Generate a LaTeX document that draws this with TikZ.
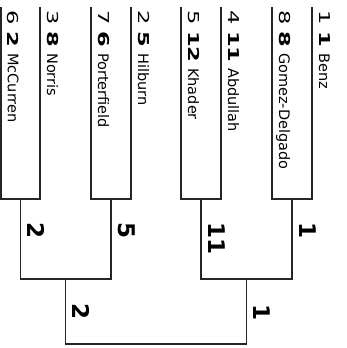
\documentclass[tikz,border=0pt]{standalone}
\usepackage{fontspec}
\setmainfont{DejaVu Sans}
\begin{document}
\begin{tikzpicture}[x=1pt,y=-1pt,
  bline/.style={line width=1.4pt, draw=black!85},
  tname/.style={rotate=-90, anchor=base west, inner sep=0pt, font=\fontsize{14.5}{16}\selectfont},
  tseed/.style={rotate=-90, anchor=base west, inner sep=0pt, font=\fontsize{15}{16}\selectfont},
  tscore/.style={rotate=-90, anchor=base west, inner sep=0pt, font=\fontsize{15}{16}\selectfont\bfseries},
  mscore/.style={rotate=-90, anchor=base west, inner sep=0pt, font=\fontsize{23}{26}\selectfont\bfseries}]
\useasboundingbox (0,0) rectangle (347,348);
% team line coordinates
\foreach \i/\xx in {1/1,2/40,3/91,4/131,5/181,6/221,7/272,8/312}{
  \coordinate (t\i) at (\xx,7);
  \coordinate (b\i) at (\xx,199);
}
% first round stems
\coordinate (m1) at (20.5,199); \coordinate (s1) at (20.5,279);
\coordinate (m2) at (111,199);  \coordinate (s2) at (111,279);
\coordinate (m3) at (201,199);  \coordinate (s3) at (201,279);
\coordinate (m4) at (292,199);  \coordinate (s4) at (292,279);
\coordinate (n1) at (65.75,279); \coordinate (f1) at (65.75,344);
\coordinate (n2) at (246.5,279); \coordinate (f2) at (246.5,344);
% boxes
\draw[bline] (t1) -- (b1) -- (b2) -- (t2);
\draw[bline] (t3) -- (b3) -- (b4) -- (t4);
\draw[bline] (t5) -- (b5) -- (b6) -- (t6);
\draw[bline] (t7) -- (b7) -- (b8) -- (t8);
% second level
\draw[bline] (m1) -- (s1) -- (s2) -- (m2);
\draw[bline] (m3) -- (s3) -- (s4) -- (m4);
% final
\draw[bline] (n1) -- (f1) -- (f2) -- (n2);
% team texts
\foreach \i/\xx/\sd/\sc/\nm/\ny in {1/1/6/2/McCurren/53, 2/40/3/8/Norris/53, 3/91/7/6/Porterfield/53, 4/131/2/5/Hilburn/53, 5/181/5/12/Khader/68, 6/221/4/11/Abdullah/68, 7/272/8/8/Gomez-Delgado/53, 8/312/1/1/Benz/53}{
  \node[tseed] (seed\i) at (\xx+7,10) {\scalebox{1.5}[1]{\sd}};
  \node[tscore] (score\i) at (\xx+7,31) {\scalebox{1.5}[1]{\sc}};
  \node[tname] (name\i) at (\xx+7,\ny) {\nm};
}
% match scores
\node[mscore] (r1) at (27.5,222) {2};
\node[mscore] (r2) at (118,222) {5};
\node[mscore] (r3) at (208,222) {11};
\node[mscore] (r4) at (299,222) {1};
\node[mscore] (q1) at (72.75,303) {2};
\node[mscore] (q2) at (253.5,304) {1};
\end{tikzpicture}
\end{document}
